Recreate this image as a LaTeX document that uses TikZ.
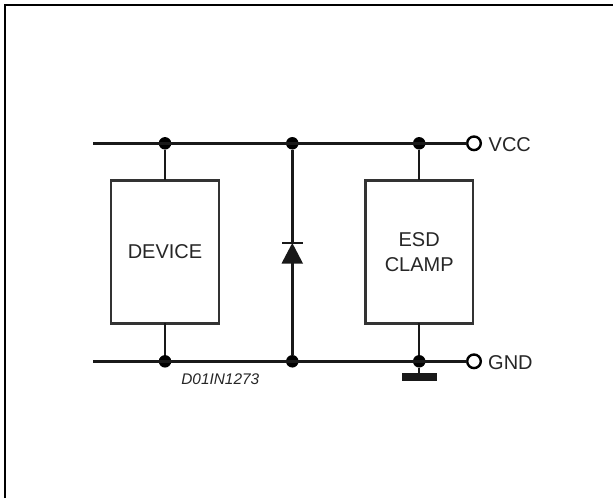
\documentclass[tikz,border=0pt]{standalone}
\usepackage{fontspec}
\setmainfont{Liberation Sans}
\begin{document}
\begin{tikzpicture}[x=1pt,y=-1pt,
  wire/.style={draw=black!90,line width=2.4pt},
  boxn/.style={draw=black!80,line width=2.4pt,minimum width=107.5pt,minimum height=143pt,inner sep=0pt,outer sep=0pt,align=center,font=\fontsize{20}{25}\selectfont,text=black!85},
  dotn/.style={circle,fill=black,inner sep=0pt,outer sep=0pt,minimum size=12.5pt},
  term/.style={circle,draw=black,fill=white,line width=2.4pt,inner sep=0pt,outer sep=0pt,minimum size=13.6pt},
  lab/.style={font=\fontsize{20}{24}\selectfont,text=black!85,anchor=west,inner sep=0pt}]
\useasboundingbox (0,0) rectangle (613,498);
\fill[white] (0,0) rectangle (613,498);
\coordinate (tl) at (5,5);
\coordinate (bl) at (5,498);
\coordinate (tr) at (613,5);
\draw[line width=2pt] (bl) -- (tl) -- (tr);
\coordinate (vs) at (93,143.3);
\coordinate (gs) at (93,361.3);
\node[boxn] (dev) at (165,251.8) {DEVICE};
\node[boxn] (esd) at (419.2,251.8) {ESD\\CLAMP};
\node[dotn] (d1) at (165,143.3) {};
\node[dotn] (d2) at (292.3,143.3) {};
\node[dotn] (d3) at (419.2,143.3) {};
\node[dotn] (d4) at (165,361.3) {};
\node[dotn] (d5) at (292.3,361.3) {};
\node[dotn] (d6) at (419.2,361.3) {};
\node[term] (vcc) at (474,143.3) {};
\node[term] (gnd) at (474,361.3) {};
\node[lab] (lv) at (488.5,144.5) {VCC};
\node[lab] (lg) at (488,362.5) {GND};
\node[font=\fontsize{15.4}{18}\selectfont\itshape,text=black!85,inner sep=0pt] (ref) at (220.3,379.5) {D01IN1273};
\fill[black!90] (402,372.7) rectangle (437,380.7);
\coordinate (gr) at (419.2,374);
\fill[black!90] (292.3,243) -- (281.5,263.5) -- (303,263.5) -- cycle;
\coordinate (da) at (292.3,243);
\coordinate (db) at (292.3,263);
\draw[wire] (vs) -- (vcc);
\draw[wire] (gs) -- (gnd);
\draw[wire] (d1) -- (dev.north);
\draw[wire] (d4) -- (dev.south);
\draw[wire] (d3) -- (esd.north);
\draw[wire] (d6) -- (esd.south);
\draw[wire] (d6) -- (gr);
\draw[wire] (d2) -- (da);
\draw[wire] (db) -- (d5);
\draw[wire,line width=2pt] (282,243) -- (303,243);
\end{tikzpicture}
\end{document}
